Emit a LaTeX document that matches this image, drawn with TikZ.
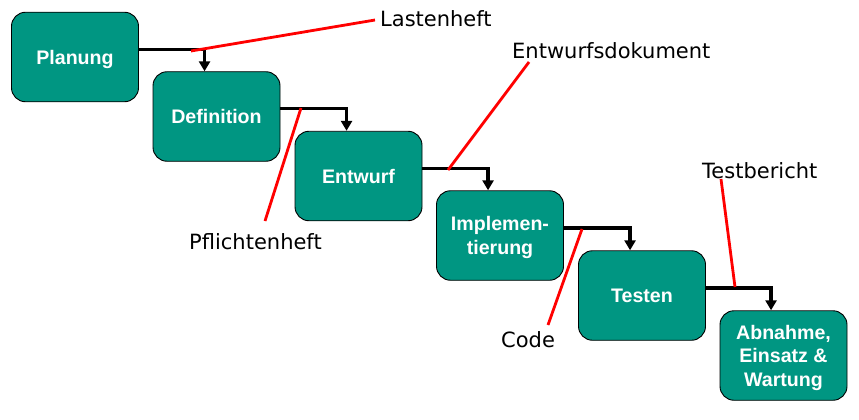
\documentclass[tikz,border=0pt]{standalone}
\usepackage{fontspec}
\setmainfont{DejaVu Sans}
\newfontfamily\boxfont{Liberation Sans}
\usetikzlibrary{arrows.meta,calc}
\definecolor{teal}{RGB}{0,150,130}
\tikzset{
  phase/.style={draw=black, line width=0.9pt, fill=teal, rounded corners=14pt,
    minimum width=127pt, minimum height=89.5pt, inner sep=0pt, align=center,
    text depth=0pt,
    text=white, font=\boxfont\bfseries\fontsize{19.6}{23.5}\selectfont},
  conn/.style={line width=3.4pt, -{Triangle[length=10pt,width=11pt]}},
  doc/.style={line width=2.8pt, red},
  doclabel/.style={inner sep=0pt, anchor=base west, font=\fontsize{21}{24}\selectfont}
}
\begin{document}
\begin{tikzpicture}[x=1pt,y=-1pt]
\useasboundingbox (0,0) rectangle (859,420);
\node[phase] (plan) at (75,57) {Planung};
\node[phase] (def) at (216.5,116.5) {Definition};
\node[phase] (entw) at (358.5,176) {Entwurf};
\node[phase] (impl) at (500,235.5) {Implemen-\\tierung};
\node[phase] (test) at (642,295.5) {Testen};
\node[phase] (abn) at (783.5,355.5) {Abnahme,\\Einsatz \&\\Wartung};

\draw[conn] ([yshift=-37.5pt]plan.north east) -| ([xshift=52pt]def.north west);
\draw[conn] ([yshift=-37pt]def.north east) -| ([xshift=52pt]entw.north west);
\draw[conn] ([yshift=-37.5pt]entw.north east) -| ([xshift=52pt]impl.north west);
\draw[conn] ([yshift=-37.5pt]impl.north east) -| ([xshift=52pt]test.north west);
\draw[conn] ([yshift=-37.5pt]test.north east) -| ([xshift=51.5pt]abn.north west);

\node[doclabel] (lh) at (380,26.5) {Lastenheft};
\node[doclabel] (ed) at (512,59) {Entwurfsdokument};
\node[doclabel] (ph) at (189,249) {Pflichtenheft};
\node[doclabel] (cd) at (501,347) {Code};
\node[doclabel] (tb) at (702,178) {Testbericht};

\coordinate (lh1) at (191,51);
\coordinate (lh2) at (375,20);
\coordinate (ph1) at (301,108);
\coordinate (ph2) at (265,221);
\coordinate (ed1) at (448,170);
\coordinate (ed2) at (529,62);
\coordinate (cd1) at (582,229);
\coordinate (cd2) at (548,325);
\coordinate (tb1) at (721,179);
\coordinate (tb2) at (735,287);
\draw[doc] (lh1) -- (lh2);
\draw[doc] (ph1) -- (ph2);
\draw[doc] (ed1) -- (ed2);
\draw[doc] (cd1) -- (cd2);
\draw[doc] (tb1) -- (tb2);
\end{tikzpicture}
\end{document}
